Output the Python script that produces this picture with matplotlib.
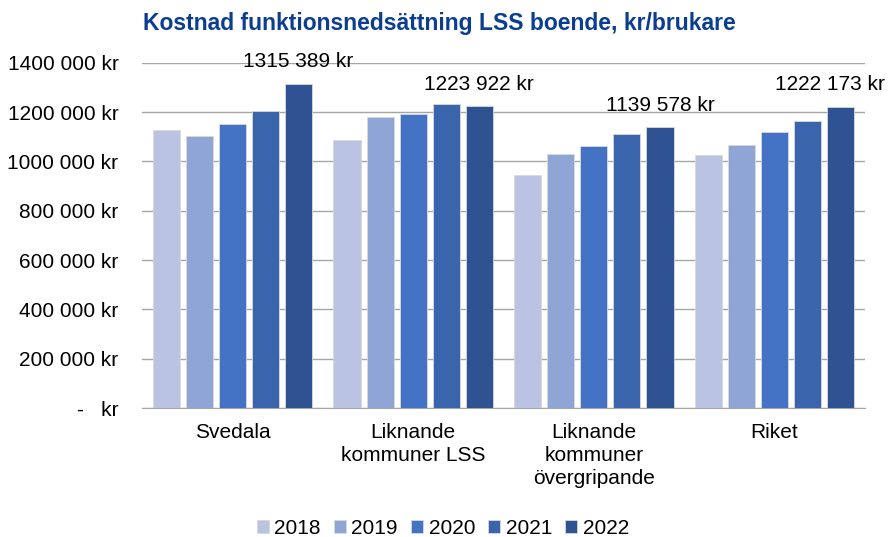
import numpy as np
import matplotlib.pyplot as plt
from matplotlib.ticker import FuncFormatter

plt.rcParams['font.family'] = ['Liberation Sans', 'DejaVu Sans']

categories = ["Svedala", "Liknande\nkommuner LSS", "Liknande\nkommuner\növergripande", "Riket"]
years = ["2018", "2019", "2020", "2021", "2022"]
v2018 = [1128000, 1088000, 946000, 1027000]
v2019 = [1104000, 1181000, 1031000, 1067000]
v2020 = [1153000, 1193000, 1063000, 1120000]
v2021 = [1205000, 1234000, 1112000, 1165000]
v2022 = [1315389, 1223922, 1139578, 1222173]
series = [v2018, v2019, v2020, v2021, v2022]
colors = ["#BAC4E2", "#8FA5D5", "#4472C4", "#3A64AC", "#2F5293"]

fig = plt.figure(figsize=(8.88, 5.37), dpi=100)
ax = fig.add_axes([0.160, 0.240, 0.814, 0.643])

x = np.arange(len(categories))
step = 0.183
w = 0.15
for i, (vals, c, yr) in enumerate(zip(series, colors, years)):
    pos = x + (i - 2) * step
    ax.bar(pos, vals, w, color=c, edgecolor="#D9D9D9", lw=0.6, label=yr, zorder=3)

# labels on 2022 bars (last one nudged left to stay inside)
shifts = [0, 0, 0, -8]
for xi, v, dx in zip(x + 2 * step, v2022, shifts):
    ax.annotate(f"{v // 1000} {v % 1000:03d} kr", (xi, v), xytext=(dx, 9),
                textcoords="offset points", ha="center", va="bottom", fontsize=15)

def yfmt(v, p):
    if v == 0:
        return "-   kr"
    return f"{int(v / 1000)} 000 kr"

ax.set_ylim(0, 1400000)
ax.set_xlim(-0.5, 3.5)
ax.set_yticks(np.arange(0, 1400001, 200000))
ax.yaxis.set_major_formatter(FuncFormatter(yfmt))
ax.set_xticks(x)
ax.set_xticklabels(categories, fontsize=15, linespacing=1.25)
ax.tick_params(axis="y", labelsize=15, length=0, pad=17)
ax.tick_params(axis="x", length=0, pad=11)
ax.grid(axis="y", color="#A6A6A6", lw=1, zorder=0)
for s in ["top", "right", "left"]:
    ax.spines[s].set_visible(False)
ax.spines["bottom"].set_color("#A6A6A6")

fig.suptitle("Kostnad funktionsnedsättning LSS boende, kr/brukare", x=0.495, y=0.978,
             fontsize=16.5, fontweight="bold", color="#0B3D91")

ax.legend(loc="lower center", bbox_to_anchor=(0.416, -0.43), ncol=5, frameon=False,
          fontsize=15, handlelength=0.6, handleheight=0.6, handletextpad=0.25, columnspacing=0.62)

fig.savefig("out.png", dpi=100)
